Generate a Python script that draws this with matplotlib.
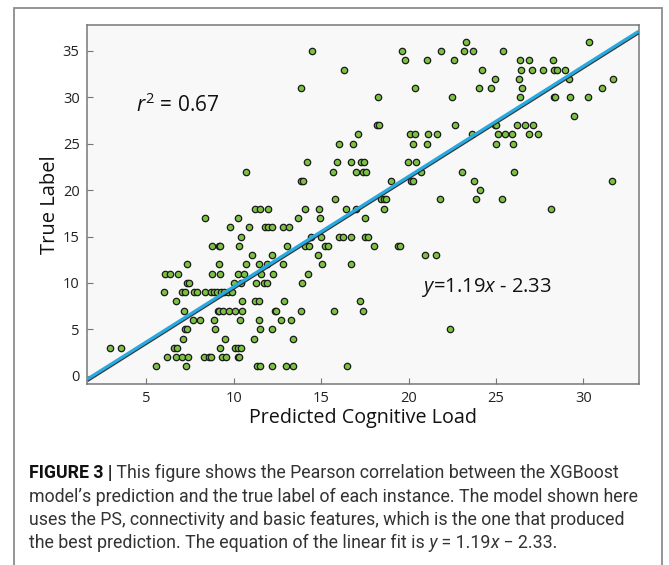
import numpy as np
import matplotlib
matplotlib.use("Agg")
import matplotlib.pyplot as plt
import matplotlib.patheffects as pe
from matplotlib.patches import Rectangle
from matplotlib.text import Annotation

# true label (integer) for each row of points, and predicted loads on that row
true_rows = [36, 35, 34, 33, 32, 31, 30, 28, 27, 26, 25, 23, 22, 21, 20, 19, 18, 17,
             16, 15, 14, 13, 12, 11, 10, 9, 8, 7, 6, 5, 4, 3, 2, 1]
pred_rows = [
    [23.27, 30.34],
    [14.46, 19.61, 21.85, 23.18, 23.7, 25.38],
    [19.81, 21.06, 22.6, 26.35, 26.87, 28.28],
    [16.3, 24.18, 26.4, 27.06, 27.69, 28.3, 28.5, 28.92],
    [24.92, 26.3, 29.15, 31.68],
    [13.84, 20.35, 24.02, 24.7, 26.47, 31.05],
    [18.26, 22.5, 26.36, 28.29, 28.38, 29.22, 30.26],
    [29.45],
    [18.2, 18.3, 22.64, 24.93, 24.98, 26.22, 26.65, 27.1],
    [17.1, 20.09, 20.35, 21.14, 21.61, 23.62, 25.1, 25.5, 25.9, 26.91, 27.42],
    [16.05, 16.84, 20.24, 21.05, 25.01, 25.96],
    [14.2, 15.89, 16.69, 17.31, 17.47, 19.96, 20.43],
    [10.72, 15.71, 16.99, 17.41, 17.56, 20.7, 23.05, 26.05],
    [13.85, 13.97, 18.97, 20.14, 20.25, 23.73, 31.61],
    [24.06],
    [15.81, 18.43, 18.6, 18.73, 21.78, 23.84, 25.33],
    [11.2, 11.49, 11.97, 14.1, 14.87, 16.43, 16.98, 18.6, 28.17],
    [8.36, 10.25, 13.69, 14.94, 17.5],
    [9.81, 10.88, 11.78, 11.95, 12.22, 12.8, 13.16],
    [10.42, 14.43, 15.0, 16.02, 16.27, 16.71, 17.5, 17.7],
    [8.78, 9.14, 9.25, 10.3, 13.05, 14.07, 14.3, 15.23, 15.37, 18.02, 19.42, 19.53],
    [11.05, 12.18, 14.82, 20.93, 21.59],
    [7.33, 9.17, 10.72, 11.43, 11.92, 12.8, 15.06, 16.72],
    [6.07, 6.39, 6.84, 8.77, 9.22, 10.27, 10.61, 11.56, 12.24, 14.24],
    [7.33, 7.46, 10.0, 10.44, 11.29, 11.76, 11.93, 13.9],
    [6.03, 7.06, 7.25, 7.73, 7.93, 8.39, 8.73, 8.9, 9.07, 9.29, 9.46, 9.67, 9.93],
    [6.7, 10.47, 11.2, 11.44, 12.9, 17.22],
    [7.15, 9.1, 9.17, 9.41, 9.75, 10.11, 10.48, 12.35, 12.4, 13.86, 15.75, 17.4],
    [7.69, 8.07, 8.89, 10.35, 11.43, 12.72, 13.31],
    [7.2, 7.34, 8.92, 11.51, 12.18, 22.37],
    [7.1, 9.51, 11.15, 13.42],
    [2.94, 3.57, 6.6, 6.76, 9.23, 10.11, 10.24, 10.4],
    [6.17, 6.69, 7.07, 7.4, 8.3, 8.57, 8.7, 9.34, 9.56, 10.24, 10.33],
    [5.58, 7.29, 11.35, 11.5, 12.2, 12.97, 13.41, 16.5],
]

slope = 1.19
intercept = -2.33
r_squared = 0.67

xticks = [5, 10, 15, 20, 25, 30]
yticks = [0, 5, 10, 15, 20, 25, 30, 35]

caption_lines = [
    "This figure shows the Pearson correlation between the XGBoost",
    "model\u2019s prediction and the true label of each instance. The model shown here",
    "uses the PS, connectivity and basic features, which is the one that produced",
    "the best prediction. The equation of the linear fit is",
]

pred = np.concatenate([np.array(r) for r in pred_rows])
true = np.concatenate([np.full(len(r), t) for t, r in zip(true_rows, pred_rows)])

plt.rcParams['font.family'] = ['Open Sans', 'DejaVu Sans']
plt.rcParams['mathtext.fontset'] = 'custom'
plt.rcParams['mathtext.rm'] = 'Open Sans'
plt.rcParams['mathtext.it'] = 'Open Sans:italic'

W, H = 669, 565
fig = plt.figure(figsize=(W / 100, H / 100), dpi=100)
ax = fig.add_axes([86.6 / W, 1 - 384 / H, (638.6 - 86.6) / W, (384 - 25) / H])
ax.set_facecolor('#f8f8f8')

xlim = (1.6, 33.15)
ylim = (-0.9, 37.8)
ax.set_xlim(xlim)
ax.set_ylim(ylim)

ax.plot(pred, true, 'o', ms=4.6, mfc='#7dc142', mec='#1a1a1a', mew=0.9, zorder=3)

xs = np.array(xlim)
ax.plot(xs, slope * xs + intercept, color='#27a9e1', lw=2.3, zorder=4, solid_capstyle='butt',
        path_effects=[pe.SimpleLineShadow(offset=(0.5, -0.7), shadow_color='#222222', alpha=0.9),
                      pe.Normal()])

for s in ax.spines.values():
    s.set_color('#777777')
    s.set_linewidth(1.1)

ax.set_xticks(xticks)
ax.set_yticks(yticks)
ax.tick_params(direction='in', length=4, width=0.8, color='#777777', labelsize=10.5,
               labelcolor='#222222', pad=5)

ax.text(4.43, 29.2, r'$r^2$ = 0.67', fontsize=15, va='center', color='#111111')
ax.text(20.75, 9.5, r'$y$=1.19$x$ - 2.33', fontsize=14.5, va='center', color='#111111')

fig.text(50 / W, 1 - 205 / H, 'True Label', rotation=90, ha='center',
         va='center', fontsize=14.5, color='#111111')
fig.text(362.6 / W, 1 - 423 / H, 'Predicted Cognitive Load', ha='center', va='baseline',
         fontsize=14.2, color='#111111')

# outer frame around figure + caption
fig.patches.append(Rectangle((14 / W, -0.05), (662 - 14) / W, 1.05 - 8 / H, fill=False,
                             edgecolor='#8c8c8c', lw=1.3, transform=fig.transFigure))

cap_font = ['Liberation Sans Narrow', 'Roboto', 'DejaVu Sans']
cap_size = 12.8
baselines = [478, 502, 525, 548]
x0 = 29 / W


def chain(prev, text, **kw):
    a = Annotation(text, xy=(1, 0), xycoords=prev, va='bottom', ha='left',
                   family=cap_font, fontsize=cap_size, color='#333333', **kw)
    fig.add_artist(a)
    return a


bold = fig.text(x0, 1 - baselines[0] / H, 'FIGURE 3 |', family=cap_font, fontsize=cap_size,
                weight='bold', color='#111111', va='baseline')
chain(bold, ' ' + caption_lines[0])
for i in (1, 2):
    fig.text(x0, 1 - baselines[i] / H, caption_lines[i], family=cap_font, fontsize=cap_size,
             color='#333333', va='baseline')
t = fig.text(x0, 1 - baselines[3] / H, caption_lines[3], family=cap_font, fontsize=cap_size,
             color='#333333', va='baseline')
t = chain(t, ' y', style='italic')
t = chain(t, ' = 1.19')
t = chain(t, 'x', style='italic')
chain(t, ' \u2212 2.33.')

fig.savefig('out.png', dpi=100)
